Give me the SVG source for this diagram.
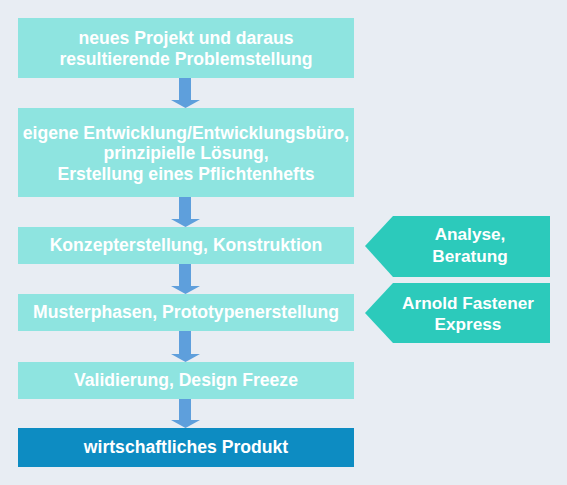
<svg xmlns="http://www.w3.org/2000/svg" width="567" height="485" viewBox="0 0 567 485">
<style>
.bg{fill:#e8edf3}
.box{fill:#8ee4e0}
.dark{fill:#0d8cc2}
.pent{fill:#2ccabb}
.arr{fill:#5e9fdc}
text{font-family:"Liberation Sans",Arial,sans-serif;font-weight:bold;font-size:17.6px;fill:#ffffff;text-anchor:middle}
text.p{font-size:17.2px}
</style>
<rect class="bg" x="0" y="0" width="567" height="485"/>
<g id="connectors">
<polygon class="arr" points="179,78 191,78 191,100 200,100 185.5,108 171,100 179,100"/>
<polygon class="arr" points="179,197 191,197 191,219 200,219 185.5,227 171,219 179,219"/>
<polygon class="arr" points="179,264 191,264 191,286 200,286 185.5,294 171,286 179,286"/>
<polygon class="arr" points="179,331 191,331 191,354 200,354 185.5,362 171,354 179,354"/>
<polygon class="arr" points="179,399 191,399 191,420 200,420 185.5,428 171,420 179,420"/>
</g>
<g id="n1">
<rect class="box" x="18" y="18" width="336" height="60"/>
<text x="186" y="44">neues Projekt und daraus</text>
<text x="186" y="65">resultierende Problemstellung</text>
</g>
<g id="n2">
<rect class="box" x="18" y="108" width="336" height="89"/>
<text x="186" y="139">eigene Entwicklung/Entwicklungsbüro,</text>
<text x="186" y="159">prinzipielle Lösung,</text>
<text x="186" y="180">Erstellung eines Pflichtenhefts</text>
</g>
<g id="n3">
<rect class="box" x="18" y="227" width="336" height="37"/>
<text x="186" y="251">Konzepterstellung, Konstruktion</text>
</g>
<g id="n4">
<rect class="box" x="18" y="294" width="336" height="37"/>
<text x="186" y="318">Musterphasen, Prototypenerstellung</text>
</g>
<g id="n5">
<rect class="box" x="18" y="362" width="336" height="37"/>
<text x="186" y="386">Validierung, Design Freeze</text>
</g>
<g id="n6">
<rect class="dark" x="18" y="428" width="336" height="39"/>
<text x="186" y="453">wirtschaftliches Produkt</text>
</g>
<g id="p1">
<polygon class="pent" points="365,246 393,216 550,216 550,277 393,277"/>
<text class="p" x="470" y="240">Analyse,</text>
<text class="p" x="470" y="262">Beratung</text>
</g>
<g id="p2">
<polygon class="pent" points="365,313 393,283 550,283 550,343 393,343"/>
<text class="p" x="468" y="309">Arnold Fastener</text>
<text class="p" x="468" y="330">Express</text>
</g>
</svg>
